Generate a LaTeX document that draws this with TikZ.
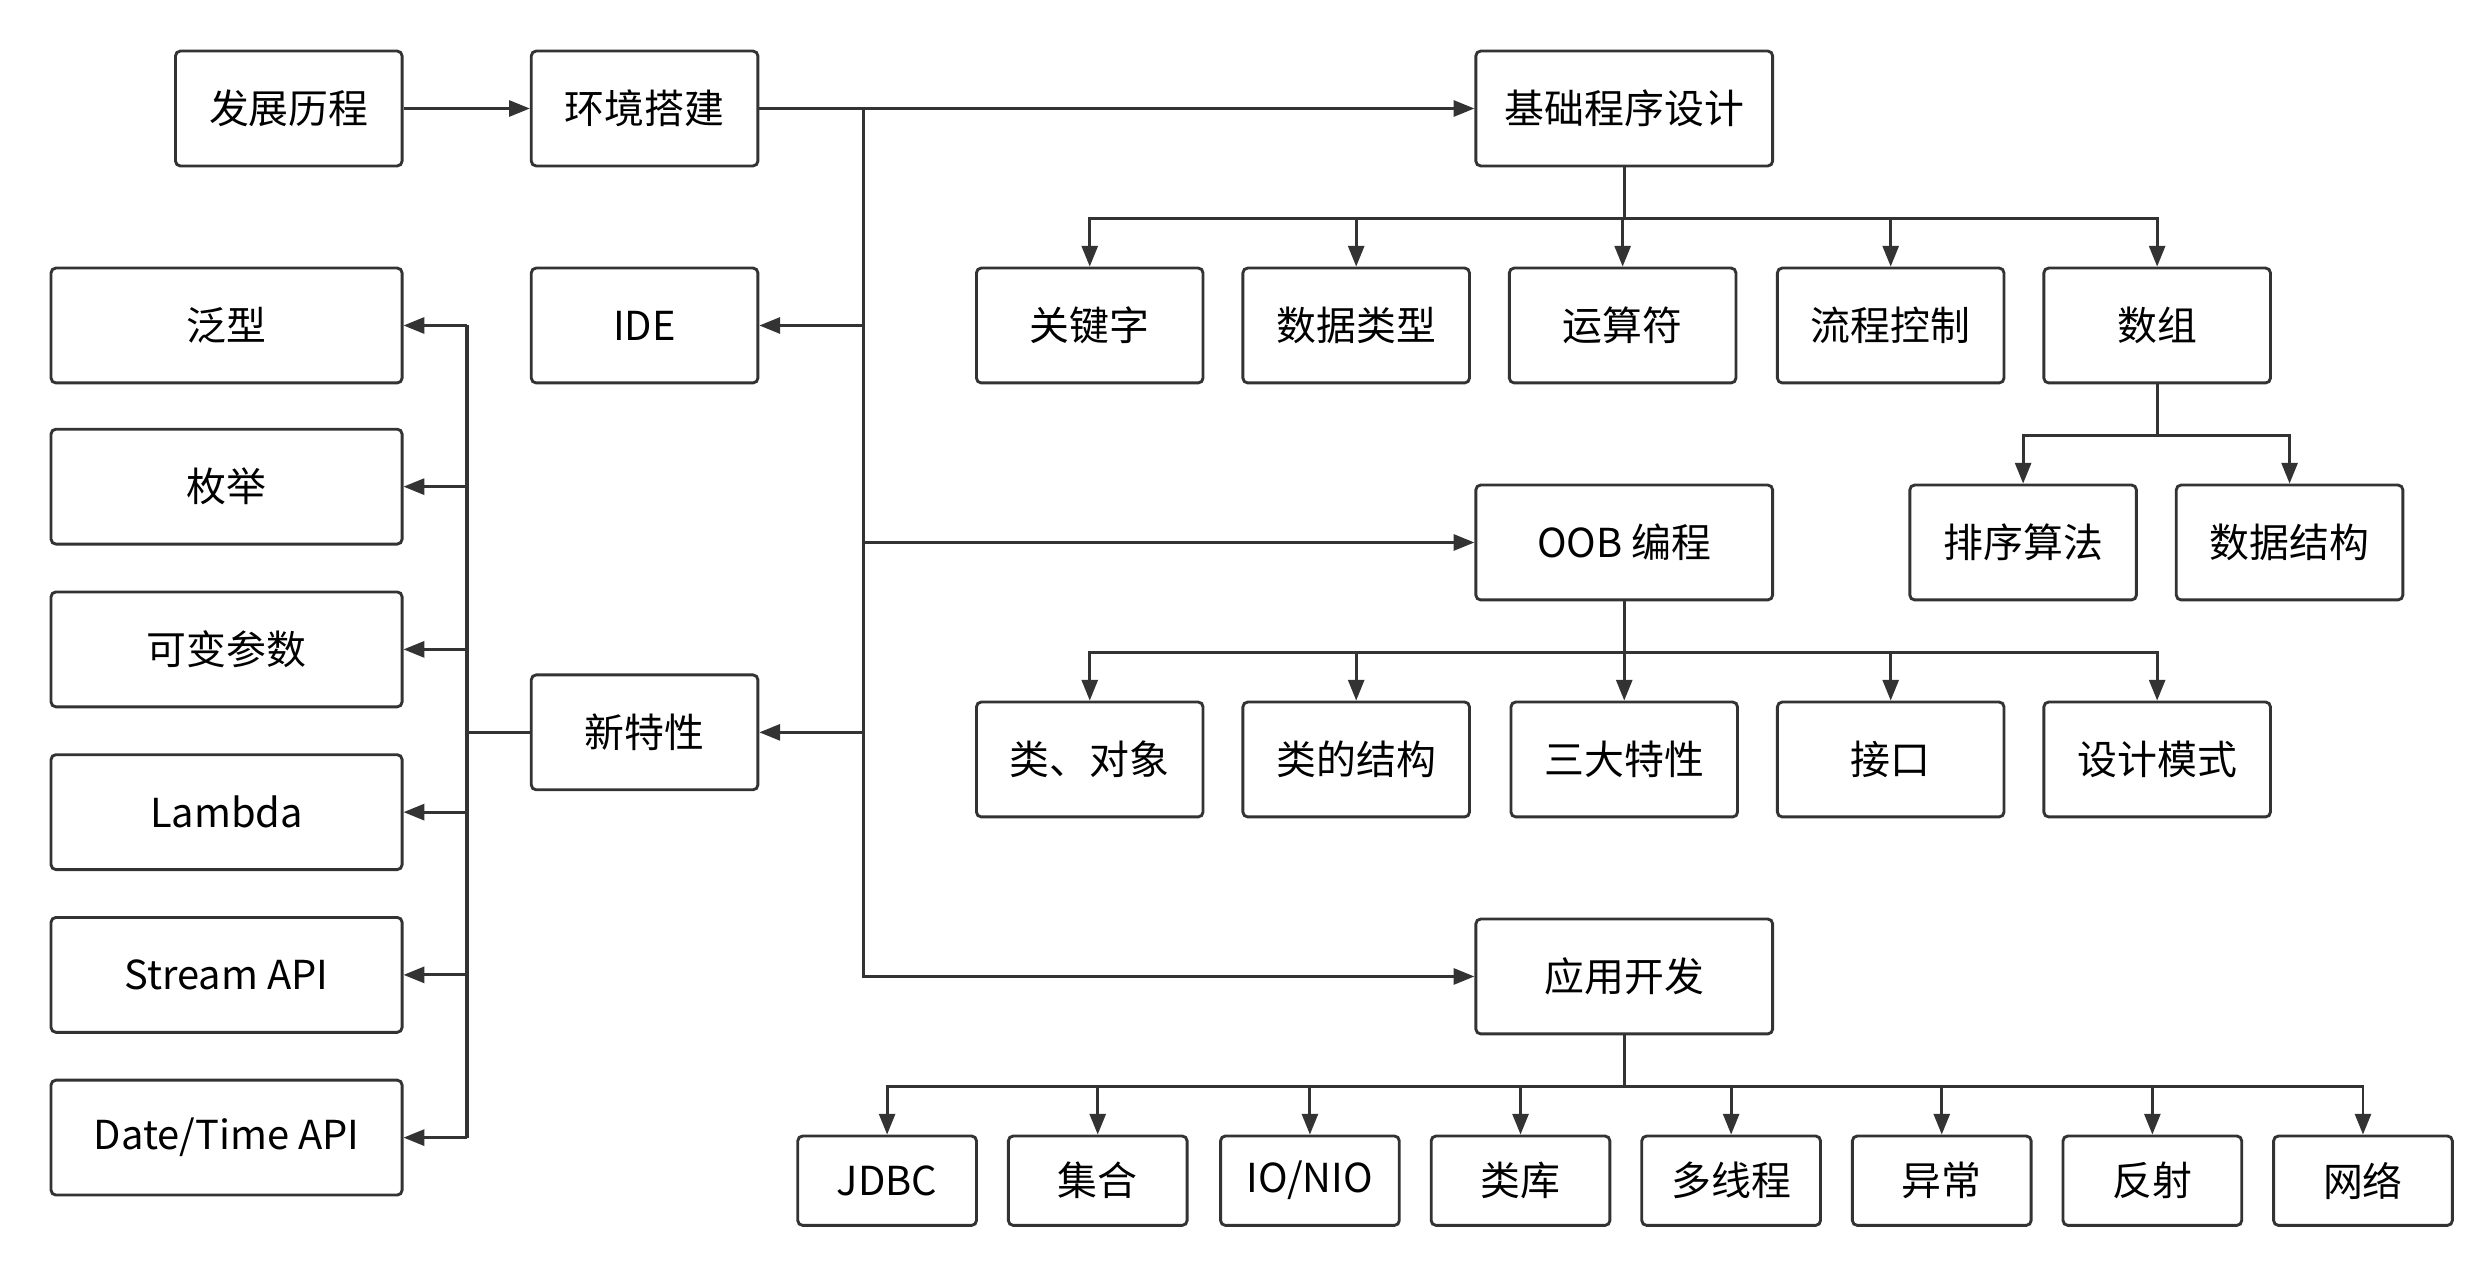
\documentclass[tikz,border=0pt]{standalone}
\usepackage{fontspec}
\setmainfont{Noto Sans CJK SC}
\usetikzlibrary{arrows.meta}
\definecolor{ln}{HTML}{333333}
\begin{document}
\begin{tikzpicture}[x=1pt,y=-1pt,
 box/.style={draw=ln,line width=1.8pt,rounded corners=3pt,minimum height=72pt,inner sep=0pt,font=\fontsize{25}{30}\selectfont,text=black},
 b/.style={box,minimum width=142pt},
 w/.style={box,minimum width=186pt},
 l/.style={box,minimum width=220pt},
 s/.style={box,minimum width=112pt,minimum height=56pt},
 arr/.style={draw=ln,line width=1.8pt,-{Triangle[length=13pt,width=10pt]}},
 ln/.style={draw=ln,line width=1.8pt}]
\useasboundingbox (0,0) rectangle (1560,796);
\node[b] (fz) at (181,68) {发展历程};
\node[b] (env) at (404,68) {环境搭建};
\node[w] (jc) at (1018,68) {基础程序设计};
\node[b] (kw) at (683,204) {关键字};
\node[b] (dt) at (850,204) {数据类型};
\node[b] (op) at (1017,204) {运算符};
\node[b] (fl) at (1185,204) {流程控制};
\node[b] (ar) at (1352,204) {数组};
\node[b] (ide) at (404,204) {IDE};
\node[l] (fx) at (142,204) {泛型};
\node[l] (mj) at (142,305) {枚举};
\node[l] (kb) at (142,407) {可变参数};
\node[l] (la) at (142,509) {Lambda};
\node[l] (st) at (142,611) {Stream API};
\node[l] (da) at (142,713) {Date/Time API};
\node[b] (px) at (1268,340) {排序算法};
\node[b] (sj) at (1435,340) {数据结构};
\node[w] (oob) at (1018,340) {OOB 编程};
\node[b] (c1) at (683,476) {类、对象};
\node[b] (c2) at (850,476) {类的结构};
\node[b] (c3) at (1018,476) {三大特性};
\node[b] (c4) at (1185,476) {接口};
\node[b] (c5) at (1352,476) {设计模式};
\node[b] (nw) at (404,459) {新特性};
\node[w] (yy) at (1018,612) {应用开发};
\node[s] (d1) at (556,740) {JDBC};
\node[s] (d2) at (688,740) {集合};
\node[s] (d3) at (821,740) {IO/NIO};
\node[s] (d4) at (953,740) {类库};
\node[s] (d5) at (1085,740) {多线程};
\node[s] (d6) at (1217,740) {异常};
\node[s] (d7) at (1349,740) {反射};
\node[s] (d8) at (1481,740) {网络};
\draw[arr] (fz) -- (env);
\coordinate (T) at (541,68);
\draw[ln] (env.east) -- (T);
\draw[arr] (T) -- (jc.west);
\draw[ln] (T) -- (541,612);
\foreach \n in {ide,oob,nw,yy}{\draw[arr] (T) |- (\n);}
\foreach \n in {kw,dt,op,fl,ar}{\draw[arr] (jc.south) -- ++(0,32) -| (\n.north);}
\foreach \n in {px,sj}{\draw[arr] (ar.south) -- ++(0,32) -| (\n.north);}
\foreach \n in {c1,c2,c3,c4,c5}{\draw[arr] (oob.south) -- ++(0,32) -| (\n.north);}
\foreach \n in {d1,d2,d3,d4,d5,d6,d7,d8}{\draw[arr] (yy.south) -- ++(0,32) -| (\n.north);}
\draw[ln] (nw.west) -- ++(-40,0) coordinate (L);
\draw[ln] (293,204) -- (293,713);
\foreach \n in {fx,mj,kb,la,st,da}{\draw[arr] (L) |- (\n.east);}
\end{tikzpicture}
\end{document}
